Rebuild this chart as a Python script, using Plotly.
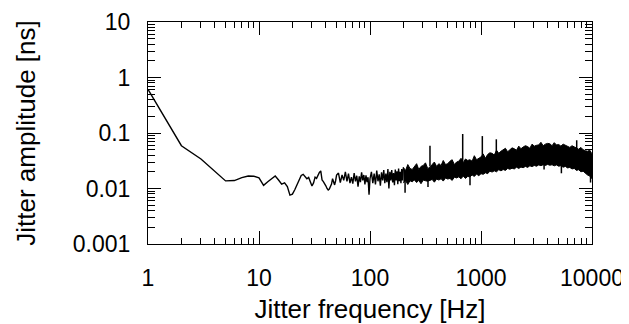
import plotly.graph_objects as go

# ---- data ----
low_freq = list(range(1, 51))
low_amp = [0.61, 0.059, 0.034, 0.020, 0.0137, 0.0139, 0.0157, 0.0168, 0.0166, 0.0156,
           0.0114, 0.0132, 0.0152, 0.0168, 0.0142, 0.0120, 0.0126, 0.0108, 0.0076, 0.0079,
           0.0095, 0.0120, 0.0146, 0.0172, 0.0180, 0.0165, 0.0150, 0.0158, 0.0130, 0.0111,
           0.0126, 0.0160, 0.0152, 0.0175, 0.0195, 0.0207, 0.0142, 0.0133, 0.0124, 0.0112,
           0.0100, 0.0094, 0.0098, 0.0108, 0.0120, 0.0150, 0.0130, 0.0116, 0.0138, 0.0175]

mid_freq = [52, 54, 56, 58, 60, 62, 64, 66, 68, 70, 72, 74, 76, 78, 80, 82, 84, 86, 88, 90,
            92, 94, 96, 98, 100, 103, 106, 109, 112, 115, 118, 121, 124, 127, 130, 133, 136,
            139, 142, 145, 148, 151, 154, 157, 160, 163, 166, 169, 172, 175, 178, 181, 184,
            187, 190, 193, 196, 199]
mid_amp = [0.0190, 0.0128, 0.0175, 0.0140, 0.0200, 0.0135, 0.0185, 0.0125, 0.0160, 0.0122,
           0.0190, 0.0135, 0.0170, 0.0108, 0.0165, 0.0130, 0.0195, 0.0140, 0.0175, 0.0118,
           0.0172, 0.0130, 0.0160, 0.0077, 0.0150, 0.0200, 0.0125, 0.0185, 0.0118, 0.0210,
           0.0135, 0.0180, 0.0112, 0.0195, 0.0140, 0.0215, 0.0125, 0.0185, 0.0130, 0.0225,
           0.0100, 0.0200, 0.0140, 0.0215, 0.0128, 0.0190, 0.0115, 0.0220, 0.0140, 0.0205,
           0.0120, 0.0230, 0.0135, 0.0200, 0.0125, 0.0225, 0.0140, 0.0210]

band_freq = [200, 209, 219, 229, 240, 251, 263, 275, 288, 302, 316, 331, 347, 363, 380, 398,
             417, 437, 457, 479, 501, 525, 550, 575, 603, 631, 661, 692, 724, 759, 794, 832,
             871, 912, 955, 1000, 1047, 1096, 1148, 1202, 1259, 1318, 1380, 1445, 1514, 1585,
             1660, 1738, 1820, 1905, 1995, 2089, 2188, 2291, 2399, 2512, 2630, 2754, 2884,
             3020, 3162, 3311, 3467, 3631, 3802, 3981, 4169, 4365, 4571, 4786, 5012, 5248,
             5495, 5754, 6026, 6310, 6607, 6918, 7244, 7586, 7943, 8318, 8710, 9120, 9550, 10000]
band_hi = [0.024, 0.021, 0.027, 0.023, 0.022, 0.025, 0.028, 0.022, 0.025, 0.026, 0.029, 0.023,
           0.024, 0.027, 0.030, 0.025, 0.028, 0.026, 0.032, 0.027, 0.028, 0.031, 0.033, 0.027,
           0.030, 0.031, 0.035, 0.029, 0.034, 0.032, 0.033, 0.031, 0.039, 0.033, 0.035, 0.037,
           0.042, 0.035, 0.041, 0.044, 0.043, 0.040, 0.049, 0.043, 0.047, 0.050, 0.053, 0.046,
           0.051, 0.054, 0.052, 0.049, 0.058, 0.052, 0.056, 0.059, 0.057, 0.053, 0.063, 0.058,
           0.060, 0.061, 0.068, 0.059, 0.063, 0.065, 0.064, 0.059, 0.067, 0.061, 0.062, 0.058,
           0.063, 0.060, 0.057, 0.055, 0.059, 0.056, 0.053, 0.051, 0.055, 0.050, 0.048, 0.047,
           0.049, 0.042]
band_lo = [0.0125, 0.0140, 0.0118, 0.0138, 0.0132, 0.0143, 0.0128, 0.0140, 0.0122, 0.0142,
           0.0138, 0.0135, 0.0140, 0.0146, 0.0130, 0.0148, 0.0142, 0.0150, 0.0136, 0.0155,
           0.0148, 0.0152, 0.0140, 0.0160, 0.0155, 0.0162, 0.0150, 0.0168, 0.0152, 0.0165,
           0.0162, 0.0175, 0.0165, 0.0182, 0.0170, 0.0185, 0.0180, 0.0192, 0.0185, 0.0205,
           0.0198, 0.0208, 0.0200, 0.0218, 0.0208, 0.0220, 0.0212, 0.0230, 0.0222, 0.0232,
           0.0225, 0.0242, 0.0230, 0.0243, 0.0237, 0.0250, 0.0240, 0.0256, 0.0248, 0.0260,
           0.0252, 0.0266, 0.0258, 0.0268, 0.0260, 0.0272, 0.0262, 0.0268, 0.0256, 0.0266,
           0.0252, 0.0258, 0.0242, 0.0250, 0.0235, 0.0240, 0.0225, 0.0230, 0.0212, 0.0218,
           0.0200, 0.0205, 0.0188, 0.0175, 0.0168, 0.0150]

spike_freq = [347, 684, 1028, 1374, 7280, 207, 333, 796, 5300, 9700, 3700]
spike_base = [0.025, 0.030, 0.034, 0.040, 0.050, 0.020, 0.022, 0.030, 0.040, 0.030, 0.045]
spike_peak = [0.059, 0.096, 0.088, 0.077, 0.074, 0.0084, 0.0106, 0.0115, 0.0188, 0.0128, 0.022]

x_tickvals = [1, 10, 100, 1000, 10000]
x_ticktext = ["1", "10", "100", "1000", "10000"]
y_tickvals = [0.001, 0.01, 0.1, 1, 10]
y_ticktext = ["0.001", "0.01", "0.1", "1", "10"]

# ---- figure ----
line_x = low_freq + mid_freq
line_y = low_amp + mid_amp

sx, sy = [], []
for f, b, p in zip(spike_freq, spike_base, spike_peak):
    sx += [f, f, None]
    sy += [b, p, None]

fig = go.Figure()
fig.add_trace(go.Scatter(x=band_freq + band_freq[::-1], y=band_hi + band_lo[::-1],
                         mode="lines", fill="toself", fillcolor="black",
                         line=dict(color="black", width=1), hoverinfo="skip"))
fig.add_trace(go.Scatter(x=line_x + [band_freq[0]], y=line_y + [band_hi[0]], mode="lines",
                         line=dict(color="black", width=1.4)))
fig.add_trace(go.Scatter(x=sx, y=sy, mode="lines", line=dict(color="black", width=1.5)))

def minor_vals(lo_exp, hi_exp):
    return [m * 10 ** e for e in range(lo_exp, hi_exp) for m in range(2, 10)]

font = "Liberation Sans, Arial, sans-serif"
# the page body has an 8px default margin, so the figure is 8px smaller
fig.update_layout(
    width=621, height=316,
    margin=dict(l=140, r=37, t=14, b=80),
    paper_bgcolor="white", plot_bgcolor="white",
    showlegend=False,
    font=dict(family=font, color="black", size=23),
    xaxis=dict(type="log", range=[0, 4], tickvals=x_tickvals, ticktext=x_ticktext,
               ticks="inside", ticklen=13, tickwidth=1, tickcolor="black",
               showline=True, linecolor="black", linewidth=1, mirror="ticks",
               showgrid=False, zeroline=False, ticklabelstandoff=13, automargin=False,
               tickfont=dict(size=23),
               minor=dict(tickvals=minor_vals(0, 4), ticks="inside", ticklen=6,
                          tickcolor="black", tickwidth=1, showgrid=False),
               title=dict(text="Jitter frequency [Hz]", font=dict(size=26), standoff=14)),
    yaxis=dict(type="log", range=[-3, 1], tickvals=y_tickvals, ticktext=y_ticktext,
               ticks="inside", ticklen=13, tickwidth=1, tickcolor="black",
               showline=True, linecolor="black", linewidth=1, mirror="ticks",
               showgrid=False, zeroline=False, ticklabelstandoff=12, automargin=False,
               tickfont=dict(size=23),
               minor=dict(tickvals=minor_vals(-3, 1), ticks="inside", ticklen=7,
                          tickcolor="black", tickwidth=1, showgrid=False),
               title=dict(text="Jitter amplitude [ns]", font=dict(size=26), standoff=29)),
)

fig.write_html("out.html")
